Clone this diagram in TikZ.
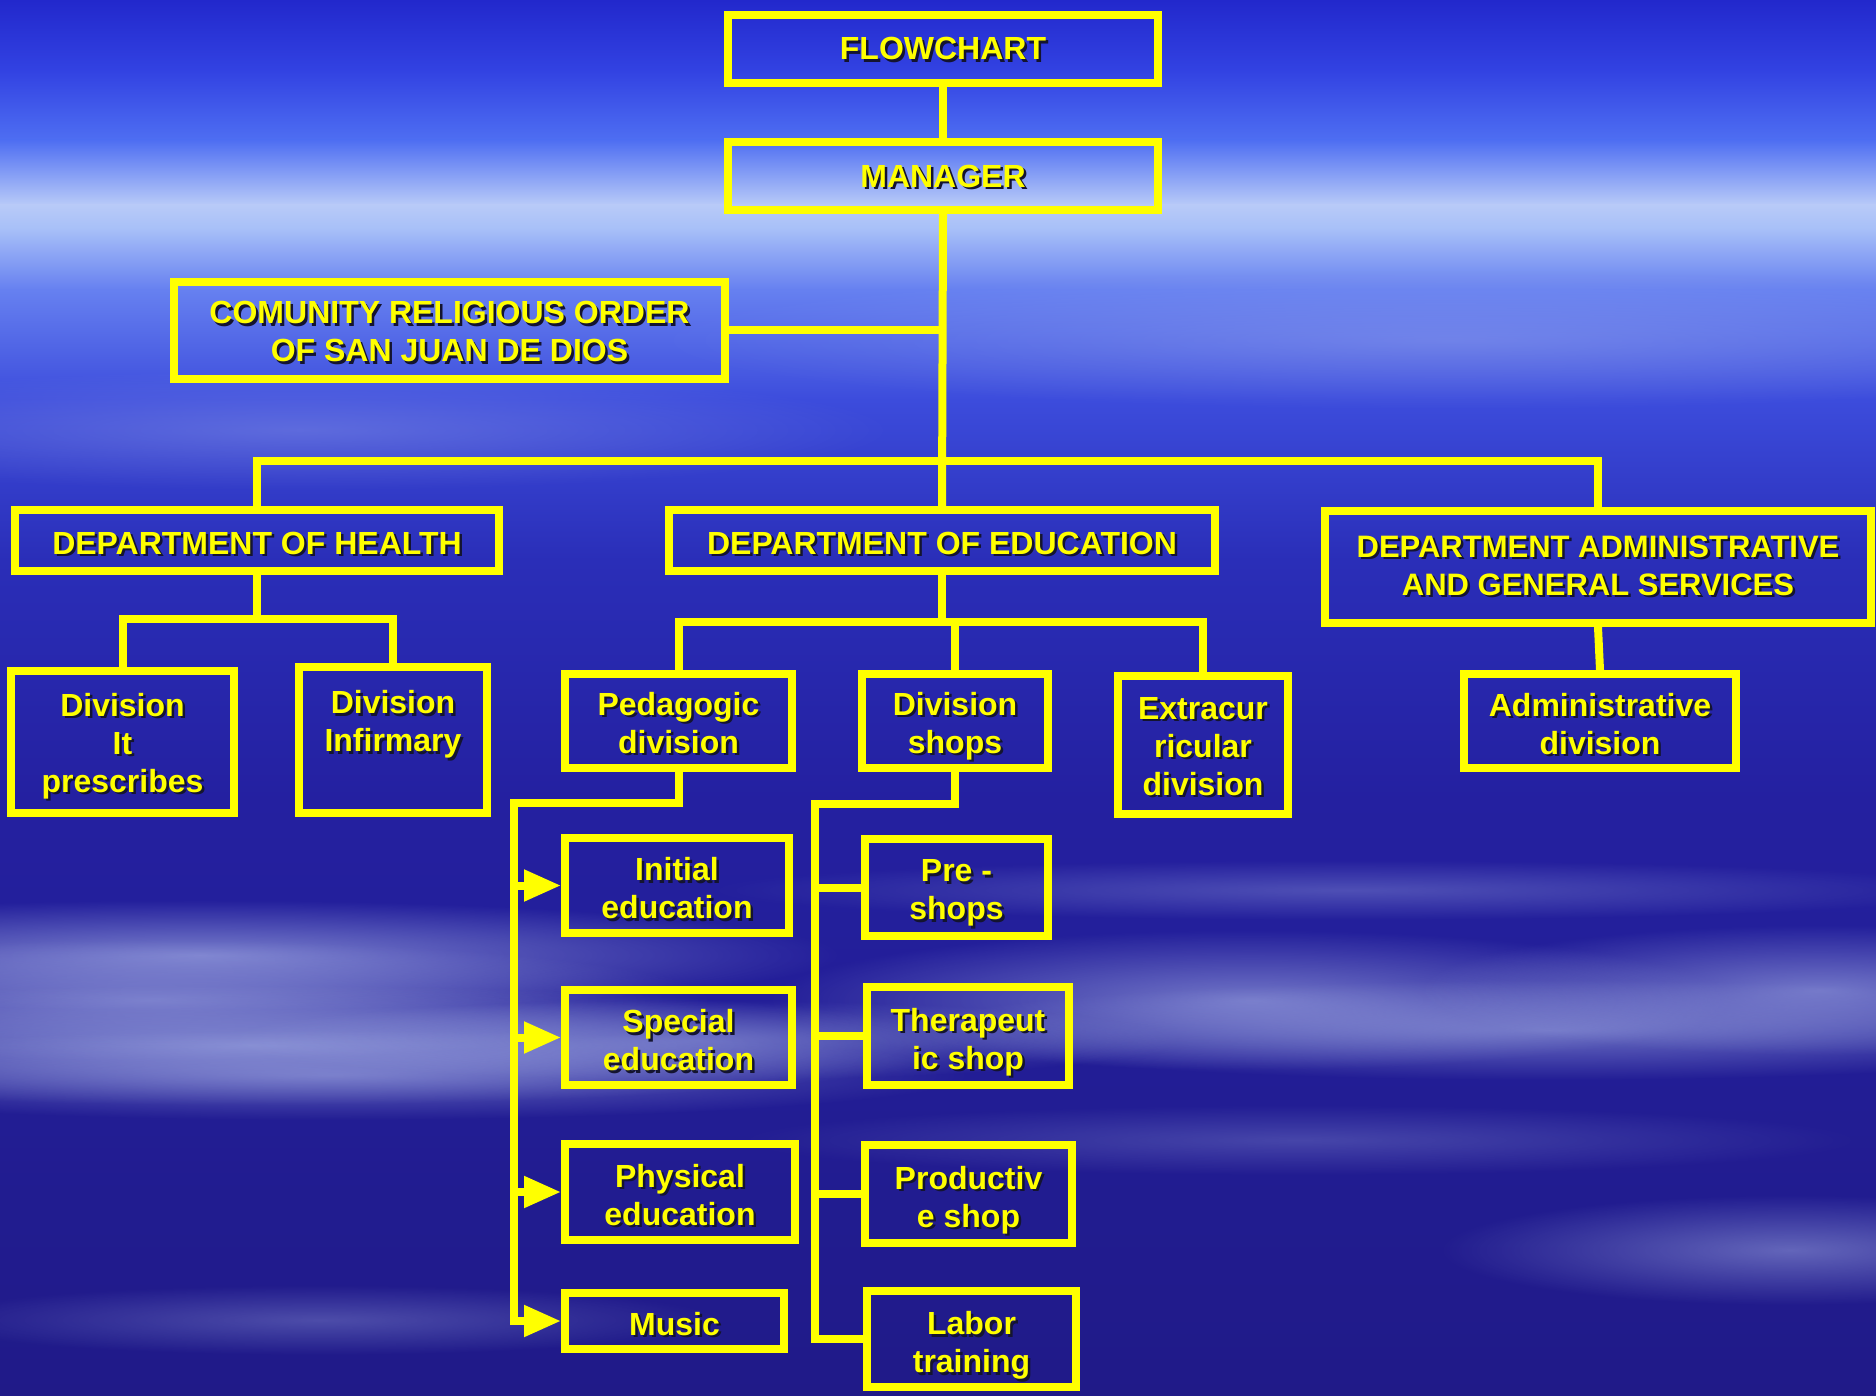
\documentclass[tikz,border=0pt]{standalone}
\usepackage{fontspec}
\setmainfont{Liberation Sans}
\usetikzlibrary{arrows.meta,fadings}
\definecolor{yel}{HTML}{FFFF00}
\definecolor{shadowc}{HTML}{141430}
\definecolor{cloudc}{HTML}{B4C0F0}
\definecolor{b0}{HTML}{2228CC}
\definecolor{b1}{HTML}{3242E2}
\definecolor{b2}{HTML}{4E6EF2}
\definecolor{b3}{HTML}{B8CAF8}
\definecolor{b4}{HTML}{A8C0F8}
\definecolor{b5}{HTML}{6680F0}
\definecolor{b6}{HTML}{3C4CDC}
\definecolor{b7}{HTML}{2A2EB8}
\definecolor{b8}{HTML}{2420A0}
\definecolor{b9}{HTML}{201A88}
\newlength{\txs}
\setlength{\txs}{4pt}
\newcommand{\sh}[1]{\raisebox{-\txs}[\height][\depth]{\makebox[0pt][l]{\kern2.5pt\raisebox{-2.5pt}{\textcolor{shadowc}{#1}}}#1}}
\tikzfading[name=blob, inner color=transparent!0, outer color=transparent!100]
\tikzset{
  box/.style={draw=yel, line width=8pt, inner sep=0pt, outer sep=4pt, align=center,
    text=yel, font=\bfseries\fontsize{32}{38}\selectfont},
  txshift/.style={execute at begin node={\setlength{\txs}{#1}}},
  conn/.style={draw=yel, line width=8pt},
  arr/.style={conn, -{Triangle[length=37pt,width=30pt]}},
  cloud/.style={fill=cloudc, path fading=blob}
}
\begin{document}
\begin{tikzpicture}[x=1pt,y=-1pt]
\useasboundingbox (0,0) rectangle (1876,1396);
% background sky
\shade[top color=b0,bottom color=b1] (0,0) rectangle (1876,70);
\shade[top color=b1,bottom color=b2] (0,70) rectangle (1876,140);
\shade[top color=b2,bottom color=b3] (0,140) rectangle (1876,205);
\shade[top color=b3,bottom color=b4] (0,205) rectangle (1876,228);
\shade[top color=b4,bottom color=b5] (0,228) rectangle (1876,290);
\shade[top color=b5,bottom color=b6] (0,290) rectangle (1876,400);
\shade[top color=b6,bottom color=b7] (0,400) rectangle (1876,560);
\shade[top color=b7,bottom color=b8] (0,560) rectangle (1876,800);
\shade[top color=b8,bottom color=b9] (0,800) rectangle (1876,1396);
% cloud streaks
\fill[cloud, opacity=.6] (200,955) ellipse [x radius=640, y radius=55];
\fill[cloud, opacity=.5] (150,1000) ellipse [x radius=560, y radius=60];
\fill[cloud, opacity=.6] (250,1045) ellipse [x radius=720, y radius=60];
\fill[cloud, opacity=.45] (330,1075) ellipse [x radius=640, y radius=45];
\fill[cloud, opacity=.4] (700,1040) ellipse [x radius=480, y radius=40];
\fill[cloud, opacity=.55] (1250,1000) ellipse [x radius=480, y radius=70];
\fill[cloud, opacity=.5] (1550,1030) ellipse [x radius=640, y radius=50];
\fill[cloud, opacity=.55] (1820,990) ellipse [x radius=400, y radius=65];
\fill[cloud, opacity=.45] (1790,1250) ellipse [x radius=350, y radius=55];
\fill[cloud, opacity=.3] (1350,890) ellipse [x radius=640, y radius=30];
\fill[cloud, opacity=.25] (1300,1140) ellipse [x radius=560, y radius=35];
\fill[cloud, opacity=.3] (320,1320) ellipse [x radius=400, y radius=35];
\fill[cloud, opacity=.3] (300,430) ellipse [x radius=600, y radius=60];
\fill[cloud, opacity=.3] (1450,340) ellipse [x radius=800, y radius=70];

% nodes
\node[box, txshift=1pt, minimum width=430, minimum height=68] (flow) at (943,49) {\sh{FLOWCHART}};
\node[box, txshift=1.5pt, minimum width=430, minimum height=68] (mgr) at (943,176) {\sh{MANAGER}};
\node[box, txshift=2.5pt, minimum width=551, minimum height=97] (com) at (449.5,330.5) {\sh{COMUNITY RELIGIOUS ORDER}\\\sh{OF SAN JUAN DE DIOS}};
\node[box, minimum width=484, minimum height=61] (health) at (257,540.5) {\sh{DEPARTMENT OF HEALTH}};
\node[box, minimum width=546, minimum height=61] (edu) at (942,540.5) {\sh{DEPARTMENT OF EDUCATION}};
\node[box, txshift=0pt, minimum width=546, minimum height=112, font=\bfseries\fontsize{31}{38}\selectfont] (admin) at (1598,567) {\sh{DEPARTMENT ADMINISTRATIVE}\\\sh{AND GENERAL SERVICES}};
\node[box, txshift=5pt, minimum width=223, minimum height=142] (divit) at (122.5,742) {\sh{Division}\\\sh{It}\\\sh{prescribes}};
\node[box, txshift=0pt, minimum width=188, minimum height=146] (divinf) at (393,740) {\sh{Division}\\\sh{Infirmary}\\\mbox{}};
\node[box, txshift=3pt, minimum width=227, minimum height=94] (ped) at (678.5,721) {\sh{Pedagogic}\\\sh{division}};
\node[box, txshift=6pt, minimum width=186, minimum height=94] (shops) at (955,721) {\sh{Division}\\\sh{shops}};
\node[box, txshift=2.5pt, minimum width=170, minimum height=138] (extra) at (1203,745) {\sh{Extracur}\\\sh{ricular}\\\sh{division}};
\node[box, minimum width=272, minimum height=94] (admdiv) at (1600,721) {\sh{Administrative}\\\sh{division}};
\node[box, minimum width=224, minimum height=95] (init) at (677,885.5) {\sh{Initial}\\\sh{education}};
\node[box, minimum width=227, minimum height=95] (spec) at (678.5,1037.5) {\sh{Special}\\\sh{education}};
\node[box, minimum width=230, minimum height=96] (phys) at (680,1192) {\sh{Physical}\\\sh{education}};
\node[box, minimum width=219, minimum height=56] (music) at (674.5,1321) {\sh{Music}};
\node[box, txshift=7pt, minimum width=183, minimum height=97] (pre) at (956.5,887.5) {\sh{Pre -}\\\sh{shops}};
\node[box, txshift=7pt, minimum width=202, minimum height=98] (thera) at (968,1036) {\sh{Therapeut}\\\sh{ic shop}};
\node[box, txshift=7pt, minimum width=207, minimum height=98] (prod) at (968.5,1194) {\sh{Productiv}\\\sh{e shop}};
\node[box, txshift=8pt, minimum width=209, minimum height=96] (labor) at (971.5,1339) {\sh{Labor}\\\sh{training}};

% junction coordinates
\coordinate (bar) at (943,461);
\coordinate (hs) at (257,619);
\coordinate (es) at (942,622);
\coordinate (pv) at (514,803);
\coordinate (sv) at (815,804);

% connectors
\draw[conn] (flow) -- (mgr);
\draw[conn] (mgr.south) -- (edu.north);
\draw[conn] (com.east) -- (com.east -| mgr.south);
\draw[conn] (health.north) |- (bar) -| (admin.north);
\draw[conn] (health.south) -- (health.south |- hs);
\draw[conn] (divit.north) |- (hs) -| (divinf.north);
\draw[conn] (edu.south) -- (edu.south |- es);
\draw[conn] (ped.north) |- (es) -| (extra.north);
\draw[conn] (shops.north) -- (shops.north |- es);
\draw[conn] (admin.south) -- (admdiv.north);
\draw[arr] (ped.south) |- (pv) |- (music.west);
\draw[arr] (pv |- init.west) -- (init.west);
\draw[arr] (pv |- spec.west) -- (spec.west);
\draw[arr] (pv |- phys.west) -- (phys.west);
\draw[conn] (shops.south) |- (sv) |- (labor.west);
\draw[conn] (sv |- pre.west) -- (pre.west);
\draw[conn] (sv |- thera.west) -- (thera.west);
\draw[conn] (sv |- prod.west) -- (prod.west);
\end{tikzpicture}
\end{document}
